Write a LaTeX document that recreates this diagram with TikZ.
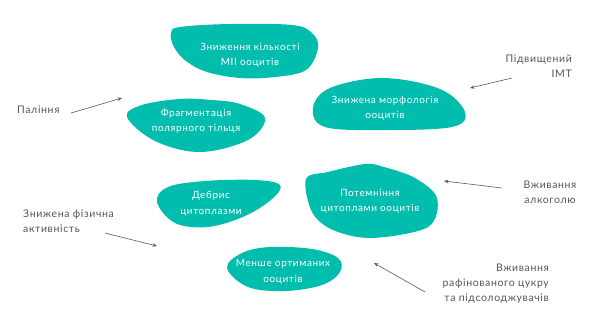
\documentclass[tikz,border=0pt]{standalone}
\usepackage{fontspec}
\setmainfont{Lato}[LetterSpace=6]
\usetikzlibrary{arrows.meta}
\definecolor{teal1}{RGB}{0,189,174}
\definecolor{txtgray}{RGB}{85,85,85}
\definecolor{arrgray}{RGB}{90,90,90}
\begin{document}
\begin{tikzpicture}[x=1pt,y=-1pt,
  blob/.style={fill=teal1},
  btext/.style={text=white,align=center,font=\fontsize{10}{15.5}\selectfont,inner sep=0pt},
  ltext/.style={text=txtgray,font=\fontsize{10.5}{15}\selectfont,inner sep=0pt},
  arr/.style={draw=arrgray,line width=0.6pt,-{Stealth[length=4.5pt,width=3.5pt]}}]
\useasboundingbox (0,0) rectangle (600,330);
\fill[white] (0,0) rectangle (600,330);
% blobs
\fill[blob] plot[smooth cycle,tension=0.6] coordinates {(171,33) (180,27) (230,24) (292,25) (312,33) (318,48) (306,70) (275,77) (240,78) (207,72) (186,61) (174,47)};
\fill[blob] plot[smooth cycle,tension=0.6] coordinates {(127,117) (142,105) (180,99) (212,100) (240,104) (265,118) (248,140) (200,152) (155,141)};
\fill[blob] plot[smooth cycle,tension=0.6] coordinates {(313,108) (330,88) (383,78) (440,89) (465,112) (452,127) (383,130) (325,127)};
\fill[blob] plot[smooth cycle,tension=0.55] coordinates {(306,179) (328,172) (365,164) (384,167) (415,178) (437,198) (428,227) (372,238) (333,230) (312,212)};
\fill[blob] plot[smooth cycle,tension=0.6] coordinates {(157,202) (168,187) (205,181) (255,180) (280,185) (272,199) (245,216) (208,227) (175,223)};
\fill[blob] plot[smooth cycle,tension=0.6] coordinates {(227,268) (242,253) (270,247) (312,249) (338,258) (340,272) (322,285) (285,291) (248,287)};
% blob texts
\node[btext] (b1) at (250,55) {Зниження кількості\\MII ооцитів};
\node[btext] (b2) at (196,121) {Фрагментація\\полярного тільця};
\node[btext] (b3) at (385,108) {Знижена морфологія\\ооцитів};
\node[btext] (b4) at (370,201) {Потемніння\\цитоплами ооцитів};
\node[btext] (b5) at (211,204) {Дебрис\\цитоплазми};
\node[btext] (b6) at (283,272) {Менше ортиманих\\ооцитів};
% labels
\node[ltext,anchor=west] (l1) at (17,110) {Паління};
\node[ltext,align=right,anchor=east] (l2) at (572,66) {Підвищений\\ІМТ};
\node[ltext,align=left,anchor=west] (l3) at (23,221) {Знижена фізична\\активність};
\node[ltext,align=center] (l4) at (550,192) {Вживання\\алкоголю};
\node[ltext,align=right,anchor=east] (l5) at (549,284) {Вживання\\рафінованого цукру\\та підсолоджувачів};
% arrows
\coordinate (a1s) at (71,113); \coordinate (a1e) at (122,98);
\coordinate (a2s) at (512,78); \coordinate (a2e) at (470,88);
\coordinate (a3s) at (105,233); \coordinate (a3e) at (157,246);
\coordinate (a4s) at (502,188); \coordinate (a4e) at (444,181);
\coordinate (a5s) at (425,292); \coordinate (a5e) at (374,263);
\draw[arr] (a1s) -- (a1e);
\draw[arr] (a2s) -- (a2e);
\draw[arr] (a3s) -- (a3e);
\draw[arr] (a4s) -- (a4e);
\draw[arr] (a5s) -- (a5e);
\end{tikzpicture}
\end{document}
